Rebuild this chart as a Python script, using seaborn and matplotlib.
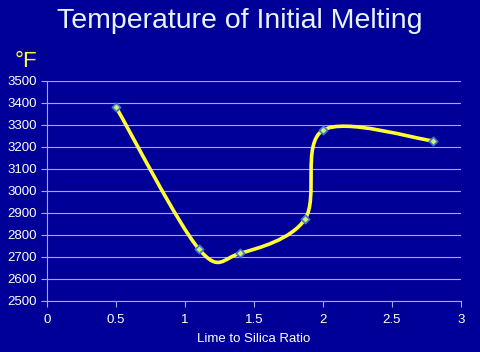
import numpy as np
import matplotlib
matplotlib.use("Agg")
import matplotlib.pyplot as plt
from matplotlib.path import Path
from matplotlib.patches import PathPatch
import seaborn as sns

# data
ratio = [0.5, 1.1, 1.4, 1.87, 2.0, 2.8]
temp_f = [3380, 2735, 2715, 2870, 3274, 3226]
x_ticks = [0, 0.5, 1, 1.5, 2, 2.5, 3]
y_ticks = list(range(2500, 3501, 100))

bg = "#000099"
grid_col = "#a8a8dc"

sns.set_style("dark")
plt.rcParams["font.family"] = ["Liberation Sans", "DejaVu Sans"]

fig = plt.figure(figsize=(4.8, 3.52), dpi=100, facecolor=bg)
ax = fig.add_axes([0.098, 0.146, 0.862, 0.625])
ax.set_facecolor(bg)

# Excel-style smoothed line: cubic bezier through the points
pts = np.column_stack([ratio, temp_f]).astype(float)
n = len(pts)
verts = [pts[0]]
codes = [Path.MOVETO]
for i in range(n - 1):
    p_prev = pts[max(i - 1, 0)]
    p0 = pts[i]
    p1 = pts[i + 1]
    p_next = pts[min(i + 2, n - 1)]
    c1 = p0 + (p1 - p_prev) / 6.0
    c2 = p1 - (p_next - p0) / 6.0
    verts += [c1, c2, p1]
    codes += [Path.CURVE4] * 3
ax.add_patch(PathPatch(Path(verts, codes), facecolor="none",
                       edgecolor="#ffff33", lw=2.6, zorder=3))

sns.scatterplot(x=ratio, y=temp_f, ax=ax, marker="D", s=18,
                color="#d8f060", edgecolor="#3c78d0", linewidth=1.2, zorder=4)

ax.set_xlim(0, 3)
ax.set_ylim(2500, 3500)
ax.set_xticks(x_ticks)
ax.set_xticklabels([f"{t:g}" for t in x_ticks])
ax.set_yticks(y_ticks)
ax.grid(False)
ax.yaxis.grid(True, color=grid_col, lw=0.8)
ax.set_axisbelow(True)

for side in ["top", "right"]:
    ax.spines[side].set_visible(False)
for side in ["left", "bottom"]:
    ax.spines[side].set_visible(True)
    ax.spines[side].set_color(grid_col)
    ax.spines[side].set_linewidth(0.8)

ax.tick_params(axis="both", colors=grid_col, labelcolor="white",
               labelsize=9.5, length=4, width=0.8, direction="out",
               bottom=True, left=True)
ax.tick_params(axis="x", pad=6)

ax.set_xlabel("Lime to Silica Ratio", color="white", fontsize=9.5, labelpad=5)
ax.set_ylabel("")

fig.text(0.5, 0.92, "Temperature of Initial Melting", color="#e8f4ff",
         fontsize=20.5, ha="center", va="baseline")
fig.text(0.03, 0.81, "°F", color="#ffff40", fontsize=16, ha="left",
         va="baseline")

fig.savefig("out.png", dpi=100, facecolor=bg)
